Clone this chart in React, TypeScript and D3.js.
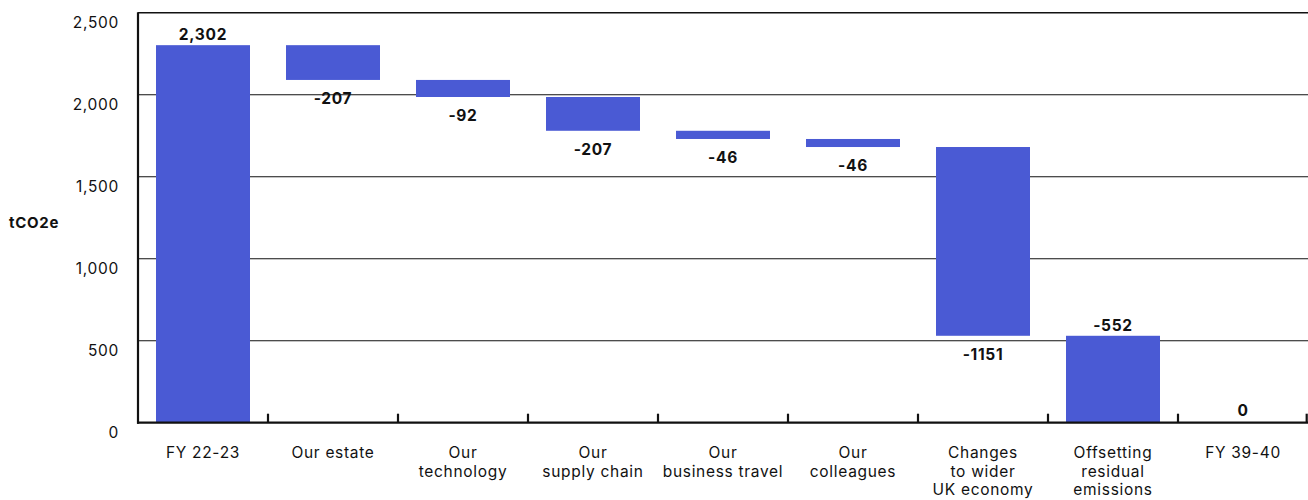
import React from "react";
import * as d3 from "d3";

const categories: string[][] = [
  ["FY 22-23"],
  ["Our estate"],
  ["Our", "technology"],
  ["Our", "supply chain"],
  ["Our", "business travel"],
  ["Our", "colleagues"],
  ["Changes", "to wider", "UK economy"],
  ["Offsetting", "residual", "emissions"],
  ["FY 39-40"],
];
// step values as drawn (bar extents)
const steps: number[] = [2302, -212, -104, -206, -50, -49, -1151, -530, 0];
// value labels as printed
const valueLabels: string[] = ["2,302", "-207", "-92", "-207", "-46", "-46", "-1151", "-552", "0"];
const yTicks: number[] = [0, 500, 1000, 1500, 2000, 2500];

const W = 1308;
const H = 500;
const left = 138;
const right = 1308;
const top = 12.7;
const bottom = 422.7;
const FONT = "Inter, 'Open Sans', sans-serif";
const BAR = "#4A5AD4";
const LS = 0.7;

export default function App() {
  const x = d3
    .scaleBand<number>()
    .domain(categories.map((_, i) => i))
    .range([left, right])
    .paddingInner(0.277)
    .paddingOuter(0.1385);
  const y = d3.scaleLinear().domain([0, 2500]).range([bottom, top]);
  const step = x.step();

  // waterfall extents
  let run = 0;
  const bars = steps.map((v, i) => {
    let y0: number, y1: number;
    if (i === 0) {
      y0 = 0;
      y1 = v;
      run = v;
    } else if (i === steps.length - 2) {
      y0 = 0;
      y1 = run;
      run = run + v;
    } else if (i === steps.length - 1) {
      y0 = 0;
      y1 = run;
    } else {
      y0 = run + v;
      y1 = run;
      run = run + v;
    }
    return { i, lo: Math.min(y0, y1), hi: Math.max(y0, y1), v };
  });

  return (
    <svg
      width={W}
      height={H}
      style={{ position: "absolute", left: 0, top: 0, background: "#fff" }}
      fontFamily={FONT}
      letterSpacing={LS}
    >
      {/* gridlines */}
      {yTicks
        .filter((t) => t > 0)
        .map((t) => (
          <line
            key={"g" + t}
            x1={left}
            x2={right}
            y1={y(t)}
            y2={y(t)}
            stroke="#111"
            strokeWidth={t === 2500 ? 1.6 : 1.1}
          />
        ))}
      {/* y tick labels */}
      {yTicks.map((t) => (
        <text
          key={"yl" + t}
          x={119}
          y={y(t) + 11.5}
          textAnchor="end"
          dominantBaseline="middle"
          fontSize={15.5}
          fill="#111"
        >
          {d3.format(",")(t)}
        </text>
      ))}
      <text x={9} y={224} dominantBaseline="middle" fontSize={15} fontWeight={700} fill="#111">
        tCO2e
      </text>
      {/* bars */}
      {bars.map((b) =>
        b.hi - b.lo > 0 ? (
          <rect
            key={"b" + b.i}
            x={x(b.i)!}
            y={y(b.hi)}
            width={x.bandwidth()}
            height={y(b.lo) - y(b.hi)}
            fill={BAR}
          />
        ) : null
      )}
      {/* value labels */}
      {bars.map((b) => {
        const cx = x(b.i)! + x.bandwidth() / 2;
        let ly: number;
        if (b.i === 0 || b.i === steps.length - 2) ly = y(b.hi) - 9.5;
        else if (b.i === steps.length - 1) ly = y(0) - 10.5;
        else ly = y(b.lo) + 19.5;
        return (
          <text
            key={"v" + b.i}
            x={cx}
            y={ly}
            textAnchor="middle"
            dominantBaseline="middle"
            fontSize={15.5}
            fontWeight={700}
            fill="#111"
          >
            {valueLabels[b.i]}
          </text>
        );
      })}
      {/* axes */}
      <line x1={left} x2={left} y1={top - 0.5} y2={bottom + 1} stroke="#111" strokeWidth={2.2} />
      <line x1={left - 1} x2={right} y1={bottom} y2={bottom} stroke="#111" strokeWidth={2.2} />
      {categories.map((_, i) => {
        const tx = left + step * (i + 1) - (i === categories.length - 1 ? 1.3 : 0);
        return (
          <line key={"t" + i} x1={tx} x2={tx} y1={bottom} y2={bottom - 9} stroke="#111" strokeWidth={2.2} />
        );
      })}
      {/* category labels */}
      {categories.map((lines, i) => (
        <text
          key={"c" + i}
          x={x(i)! + x.bandwidth() / 2}
          textAnchor="middle"
          fontSize={15.5}
          fill="#111"
        >
          {lines.map((l, k) => (
            <tspan key={k} x={x(i)! + x.bandwidth() / 2} y={454 + k * 18.6} dominantBaseline="middle">
              {l}
            </tspan>
          ))}
        </text>
      ))}
    </svg>
  );
}
